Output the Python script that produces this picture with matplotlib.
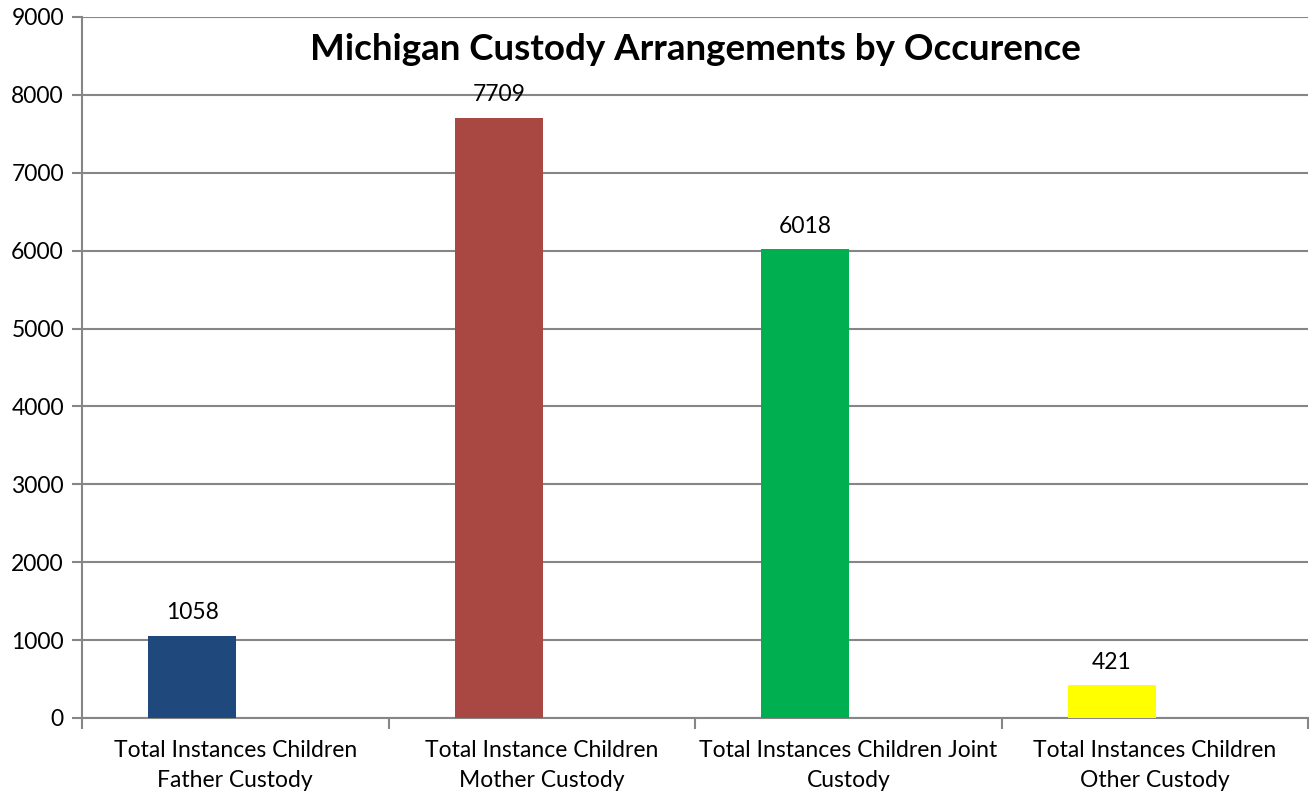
import matplotlib.pyplot as plt
import numpy as np

categories = ['Total Instances Children\nFather Custody',
              'Total Instance Children\nMother Custody',
              'Total Instances Children Joint\nCustody',
              'Total Instances Children\nOther Custody']
counts = [1058, 7709, 6018, 421]
colors = ['#1F497D', '#A94743', '#00B050', '#FFFF00']

plt.rcParams['font.family'] = ['Lato', 'DejaVu Sans']

fig = plt.figure(figsize=(13.11, 8.10), dpi=100)
ax = fig.add_axes([82/1311, 92/810, 1226/1311, 701/810])

x = np.arange(len(categories))
bars = ax.bar(x - 0.14, counts, width=0.287, color=colors, zorder=3)

for b, v in zip(bars, counts):
    ax.annotate(str(v), (b.get_x() + b.get_width()/2, v), xytext=(0, 9),
                textcoords='offset points', ha='center', va='bottom', fontsize=16.5)

ax.set_xlim(-0.5, 3.5)
ax.set_ylim(0, 9000)
ax.set_yticks(range(0, 9001, 1000))
ax.set_xticks(x)
ax.set_xticklabels(categories, fontsize=16.5, linespacing=1.5)
ax.set_xticks(np.arange(-0.5, 4, 1), minor=True)
ax.tick_params(axis='x', which='major', length=0, pad=16)
ax.tick_params(axis='x', which='minor', length=8, color='#868686', width=1.5, direction='out')
ax.tick_params(axis='y', labelsize=16.5, length=7, color='#868686', width=1.5, pad=6)

ax.grid(axis='y', color='#868686', linewidth=1.5, zorder=0)
for s in ['top', 'right']:
    ax.spines[s].set_visible(False)
for s in ['left', 'bottom']:
    ax.spines[s].set_color('#868686')
    ax.spines[s].set_linewidth(1.5)

fig.text((82 + 1308) / 2 / 1311, 1 - 49/810, 'Michigan Custody Arrangements by Occurence',
         ha='center', va='center', fontsize=26.5, fontweight='bold')

fig.savefig('out.png', dpi=100)
